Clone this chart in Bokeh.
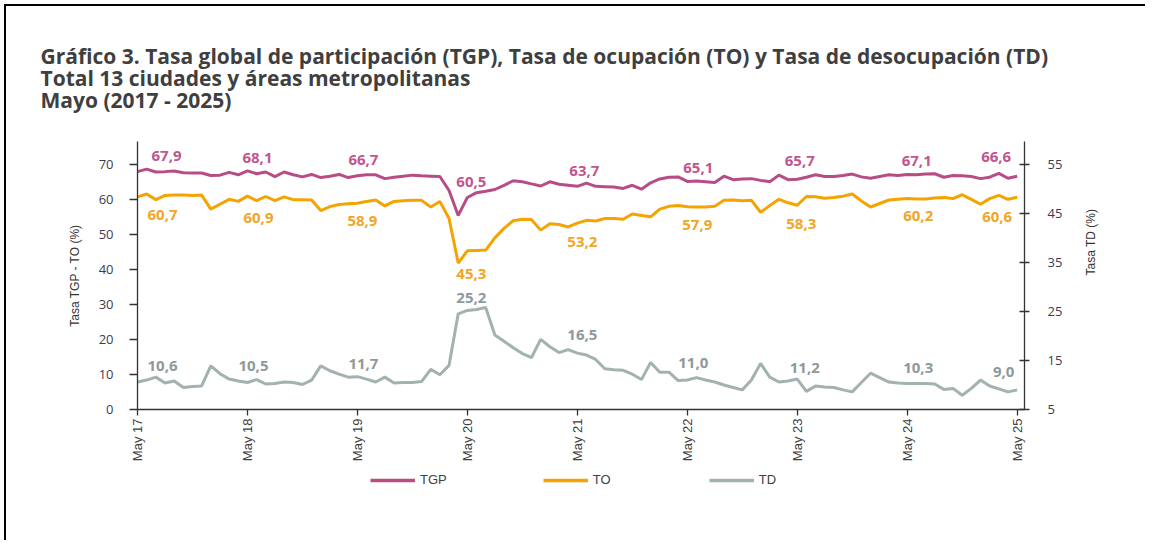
import numpy as np
from bokeh.plotting import figure
from bokeh.layouts import column
from bokeh.models import (Range1d, LinearAxis, Title, FixedTicker, Legend,
                          ColumnDataSource)
from bokeh.embed import file_html
from bokeh.resources import INLINE
from bokeh.core.properties import value

# ---------------- data (monthly, May 2017 .. May 2025) ----------------
tick_labels = ["May 17", "May 18", "May 19", "May 20", "May 21",
               "May 22", "May 23", "May 24", "May 25"]
series_names = ["TGP", "TO", "TD"]

tgp = [67.9, 68.6, 67.8, 67.9, 68.1, 67.6, 67.5, 67.5, 66.8, 66.9, 67.7, 67.0,
       68.1, 67.3, 67.8, 66.5, 67.8, 67.0, 66.4, 67.1, 66.2, 66.6, 67.1, 66.2,
       66.7, 67.0, 67.0, 65.9, 66.3, 66.6, 66.9, 66.7, 66.6, 66.5, 62.5, 55.4,
       60.5, 61.9, 62.3, 62.8, 64.0, 65.3, 65.0, 64.4, 63.8, 65.0, 64.3, 64.0,
       63.7, 64.6, 63.7, 63.6, 63.5, 63.1, 64.0, 62.9, 64.7, 65.8, 66.3, 66.4,
       65.1, 65.2, 65.0, 64.8, 66.6, 65.6, 65.8, 65.9, 65.4, 65.0, 66.9, 65.6,
       65.7, 66.3, 67.0, 66.5, 66.5, 66.8, 67.2, 66.4, 66.0, 66.5, 67.0, 66.8,
       67.1, 67.0, 67.2, 67.3, 66.3, 66.8, 66.7, 66.5, 65.9, 66.3, 67.4, 66.0,
       66.6]

to = [60.7, 61.5, 59.9, 61.1, 61.2, 61.2, 61.1, 61.2, 57.2, 58.6, 60.0, 59.4,
      60.9, 59.6, 60.8, 59.6, 60.7, 59.9, 59.9, 59.8, 56.8, 57.9, 58.5, 58.7,
      58.9, 59.4, 59.8, 58.1, 59.4, 59.6, 59.7, 59.7, 57.8, 59.4, 54.5, 41.8,
      45.3, 45.4, 45.5, 49.0, 51.7, 53.9, 54.3, 54.2, 51.2, 53.0, 52.8, 52.1,
      53.2, 54.0, 53.8, 54.5, 54.5, 54.3, 55.8, 55.4, 55.0, 57.2, 58.0, 58.2,
      57.9, 57.8, 57.8, 58.0, 59.7, 59.8, 59.6, 59.7, 56.3, 58.2, 60.0, 59.0,
      58.3, 60.8, 60.7, 60.3, 60.5, 60.9, 61.5, 59.5, 57.8, 58.8, 59.8, 60.0,
      60.2, 60.1, 60.1, 60.4, 60.5, 60.2, 61.3, 60.0, 58.6, 60.2, 61.1, 60.0,
      60.6]

td = [10.6, 11.0, 11.6, 10.4, 10.8, 9.5, 9.7, 9.8, 13.9, 12.3, 11.2, 10.8,
      10.5, 11.1, 10.2, 10.3, 10.6, 10.5, 10.1, 11.0, 13.9, 12.9, 12.2, 11.6,
      11.7, 11.2, 10.6, 11.6, 10.4, 10.5, 10.5, 10.7, 13.2, 12.1, 14.0, 24.5,
      25.2, 25.4, 25.8, 20.2, 18.9, 17.6, 16.4, 15.6, 19.3, 17.8, 16.6, 17.2,
      16.5, 16.1, 15.2, 13.3, 13.1, 13.0, 12.2, 11.1, 14.6, 12.6, 12.6, 10.9,
      11.0, 11.5, 11.0, 10.6, 10.0, 9.5, 9.0, 11.0, 14.4, 11.6, 10.6, 10.8,
      11.2, 8.7, 9.8, 9.6, 9.5, 9.0, 8.6, 10.5, 12.4, 11.5, 10.6, 10.4,
      10.3, 10.3, 10.3, 10.2, 9.1, 9.3, 7.9, 9.3, 11.0, 9.8, 9.2, 8.6,
      9.0]

months = list(range(len(tgp)))
may_idx = list(range(0, len(tgp), 12))

# ---------------- styling ----------------
C_TGP = "#b84d86"
C_TO = "#f5a300"
C_TD = "#a2b2ae"
L_TGP = "#c2558f"
L_TO = "#f2a526"
L_TD = "#8e999b"
TXT = "#404040"

LEFT_TOP = 76.5
p = figure(frame_width=885, frame_height=266, output_backend="svg", toolbar_location=None,
           x_range=Range1d(0, 96.8), y_range=Range1d(0, LEFT_TOP),
           min_border_left=131, min_border_right=123,
           min_border_top=135, min_border_bottom=60)
p.extra_y_ranges = {"td": Range1d(5, 5 + LEFT_TOP * 50 / 70)}
p.outline_line_color = None
p.xgrid.visible = False
p.ygrid.visible = False
p.background_fill_color = "white"
p.border_fill_color = "white"
p.styles = {"border-left": "2px solid #000", "border-top": "2px solid #000",
            "margin-left": "4px", "margin-top": "4px"}

# lines
r_tgp = p.line(months, tgp, line_color=C_TGP, line_width=3)
r_to = p.line(months, to, line_color=C_TO, line_width=3)
r_td = p.line(months, td, line_color=C_TD, line_width=3, y_range_name="td")

# data labels
def fmt(v):
    return f"{v:.1f}".replace(".", ",")

lab_font = value("Open Sans")
def add_labels(series, dx, dy, color, rng=None):
    src = ColumnDataSource(dict(
        x=may_idx,
        y=[series[i] for i in may_idx],
        t=[fmt(series[i]) for i in may_idx],
        dx=dx, dy=dy))
    kw = {}
    if rng:
        kw["y_range_name"] = rng
    p.text(x="x", y="y", text="t", x_offset="dx", y_offset="dy", source=src,
           text_color=color, text_font=lab_font, text_font_size="15px",
           text_font_style="bold", text_align="center",
           text_baseline="middle", **kw)

add_labels(tgp, [29, 10, 6, 4, 7, 11, 2.5, 9.5, -21],
           [-16, -13, -16, -16, -15, -13, -18, -13, -19], L_TGP)
add_labels(to, [25, 11, 5, 4, 5, 10, 4, 11, -20],
           [18, 22, 18, 23, 19, 18, 19, 17, 20], L_TO)
add_labels(td, [25, 6, 6, 4, 5, 6, 7.5, 11, -13.5],
           [-16, -17, -13, -12, -18, -17, -11, -16, -18], L_TD, "td")

# axes
ax_font = "Liberation Sans"
xa = p.xaxis[0]
xa.ticker = FixedTicker(ticks=may_idx)
xa.major_label_overrides = {i: lab for i, lab in zip(may_idx, tick_labels)}
xa.major_label_orientation = np.pi / 2
xa.major_label_text_font = ax_font
xa.major_label_text_font_size = "13px"
xa.major_label_text_color = TXT
xa.major_label_standoff = 3
xa.major_tick_in = 0
xa.major_tick_out = 6
xa.minor_tick_line_color = None
xa.axis_line_color = "#333333"
xa.axis_line_width = 1.3
xa.major_tick_line_color = "#333333"
xa.major_tick_line_width = 1.3

ya = p.yaxis[0]
ya.ticker = FixedTicker(ticks=[0, 10, 20, 30, 40, 50, 60, 70])
ya.axis_label = "Tasa TGP - TO (%)"
ya.axis_label_text_font = ax_font
ya.axis_label_text_font_size = "12px"
ya.axis_label_text_font_style = "normal"
ya.axis_label_text_color = "#333333"
ya.axis_label_standoff = 14
ya.major_label_text_font = "Open Sans"
ya.major_label_text_font_size = "13px"
ya.major_label_text_color = "#3c3c50"
ya.major_label_standoff = 16
ya.major_tick_in = 0
ya.major_tick_out = 8
ya.minor_tick_line_color = None
ya.axis_line_color = "#333333"
ya.axis_line_width = 1.3
ya.major_tick_line_color = "#333333"
ya.major_tick_line_width = 1.3

ra = LinearAxis(y_range_name="td", ticker=FixedTicker(ticks=[5, 15, 25, 35, 45, 55]))
ra.axis_label = "Tasa TD (%)"
ra.axis_label_orientation = np.pi / 2
ra.axis_label_text_font = ax_font
ra.axis_label_text_font_size = "12px"
ra.axis_label_text_font_style = "normal"
ra.axis_label_text_color = "#333333"
ra.axis_label_standoff = 26
ra.major_label_text_font = "Open Sans"
ra.major_label_text_font_size = "13px"
ra.major_label_text_color = "#3c3c50"
ra.major_label_standoff = 18
ra.major_tick_in = 5
ra.major_tick_out = 5
ra.minor_tick_line_color = None
ra.axis_line_color = "#333333"
ra.axis_line_width = 1.3
ra.major_tick_line_color = "#333333"
ra.major_tick_line_width = 1.3
p.add_layout(ra, "right")

# title (three lines)
title_lines = ["Gráfico 3. Tasa global de participación (TGP), Tasa de ocupación (TO) y Tasa de desocupación (TD)",
               "Total 13 ciudades y áreas metropolitanas",
               "Mayo (2017 - 2025)"]
p.add_layout(Title(text="\n".join(title_lines), align="left", offset=-97,
                   text_font="Open Sans", text_font_size="21px",
                   text_line_height=0.8,
                   text_font_style="bold", text_color="#3f3f3f",
                   standoff=54), "above")

# ---------------- legend strip under the chart ----------------
q = figure(width=1139, height=73, output_backend="svg", toolbar_location=None,
           x_range=Range1d(0, 1), y_range=Range1d(0, 1),
           x_axis_location=None, y_axis_location=None,
           min_border=0)
q.outline_line_color = None
q.xgrid.visible = False
q.ygrid.visible = False
q.styles = {"border-left": "2px solid #000", "margin-left": "4px"}
# proxy renderers (kept outside the visible range) that carry the legend styling
leg_r = [q.line([-2, -1], [-2, -2], line_color=c, line_width=3.5)
         for c in (C_TGP, C_TO, C_TD)]
legend = Legend(items=[(n, [r]) for n, r in zip(series_names, leg_r)],
                orientation="horizontal", location=(231, 51),
                spacing=96, glyph_width=45, glyph_height=14, label_standoff=5,
                label_text_font=ax_font, label_text_font_size="13px",
                label_text_color=TXT, border_line_alpha=0,
                background_fill_alpha=0, padding=2, margin=0)
q.add_layout(legend, "center")

page = column(p, q, spacing=0)
open("out.html", "w").write(file_html(page, INLINE))
